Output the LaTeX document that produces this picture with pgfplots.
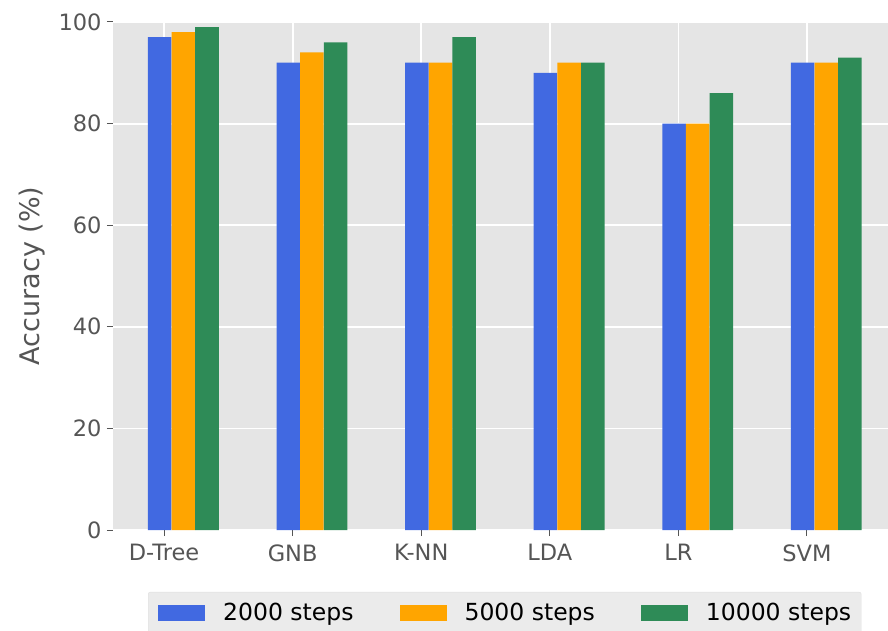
\documentclass[border=0pt]{standalone}
\usepackage{pgfplots}
\pgfplotsset{compat=1.18}
\usepackage{fontspec}
\setmainfont{DejaVu Sans}
\definecolor{bgray}{HTML}{E5E5E5}
\definecolor{lgray}{HTML}{EBEBEB}
\definecolor{tgray}{HTML}{555555}
\definecolor{cblue}{HTML}{4169E1}
\definecolor{corange}{HTML}{FFA500}
\definecolor{cgreen}{HTML}{2E8B57}
\begin{document}
\begin{tikzpicture}
\path[use as bounding box] (-113pt,-100pt) rectangle (775pt,530pt);
\begin{axis}[
 anchor=south west, at={(0pt,0pt)},
 scale only axis, width=775pt, height=508pt,
 xmin=-0.397, xmax=5.63, ymin=0, ymax=100,
 axis background/.style={fill=bgray},
 axis line style={draw=none},
 grid=major, major grid style={white, line width=1.8pt},
 xtick={0,...,5}, xticklabels={D-Tree,GNB,K-NN,LDA,LR,SVM},
 ytick={0,20,...,100},
 tick style={tgray, line width=1pt},
 major tick length=6pt,
 tick align=outside, xtick pos=bottom, ytick pos=left,
 ticklabel style={font=\fontsize{22.5}{26}\selectfont, text=tgray},
 yticklabel style={xshift=-2pt},
 xticklabel style={yshift=-5pt},
 /pgf/number format/assume math mode=true,
 ylabel={Accuracy (\%)},
 ylabel style={font=\fontsize{27}{30}\selectfont, text=tgray, at={(axis description cs:-0.1045,0.5)}, anchor=center},
 legend columns=3,
 legend style={at={(axis description cs:0.0452,-0.122)}, anchor=north west, fill=lgray, draw=black!13, rounded corners=2pt, font=\fontsize{23.5}{27}\selectfont, inner xsep=10pt, inner ysep=11pt, nodes={inner sep=0pt}, /tikz/every odd column/.append style={column sep=18pt}, /tikz/every even column/.append style={column sep=46pt}},
 legend image code/.code={\fill[#1, rounded corners=0pt] (0pt,-8pt) rectangle (47pt,8pt);},
]
\addplot[ybar, bar width=0.183, bar shift=0pt, fill=cblue, draw=none] coordinates {(-0.034,97) (0.966,92) (1.966,92) (2.966,90) (3.966,80) (4.966,92)};
\addplot[ybar, bar width=0.183, bar shift=0pt, fill=corange, draw=none] coordinates {(0.150,98) (1.150,94) (2.150,92) (3.150,92) (4.150,80) (5.150,92)};
\addplot[ybar, bar width=0.183, bar shift=0pt, fill=cgreen, draw=none] coordinates {(0.334,99) (1.334,96) (2.334,97) (3.334,92) (4.334,86) (5.334,93)};
\legend{2000 steps, 5000 steps, 10000 steps}
\end{axis}
\end{tikzpicture}
\end{document}
